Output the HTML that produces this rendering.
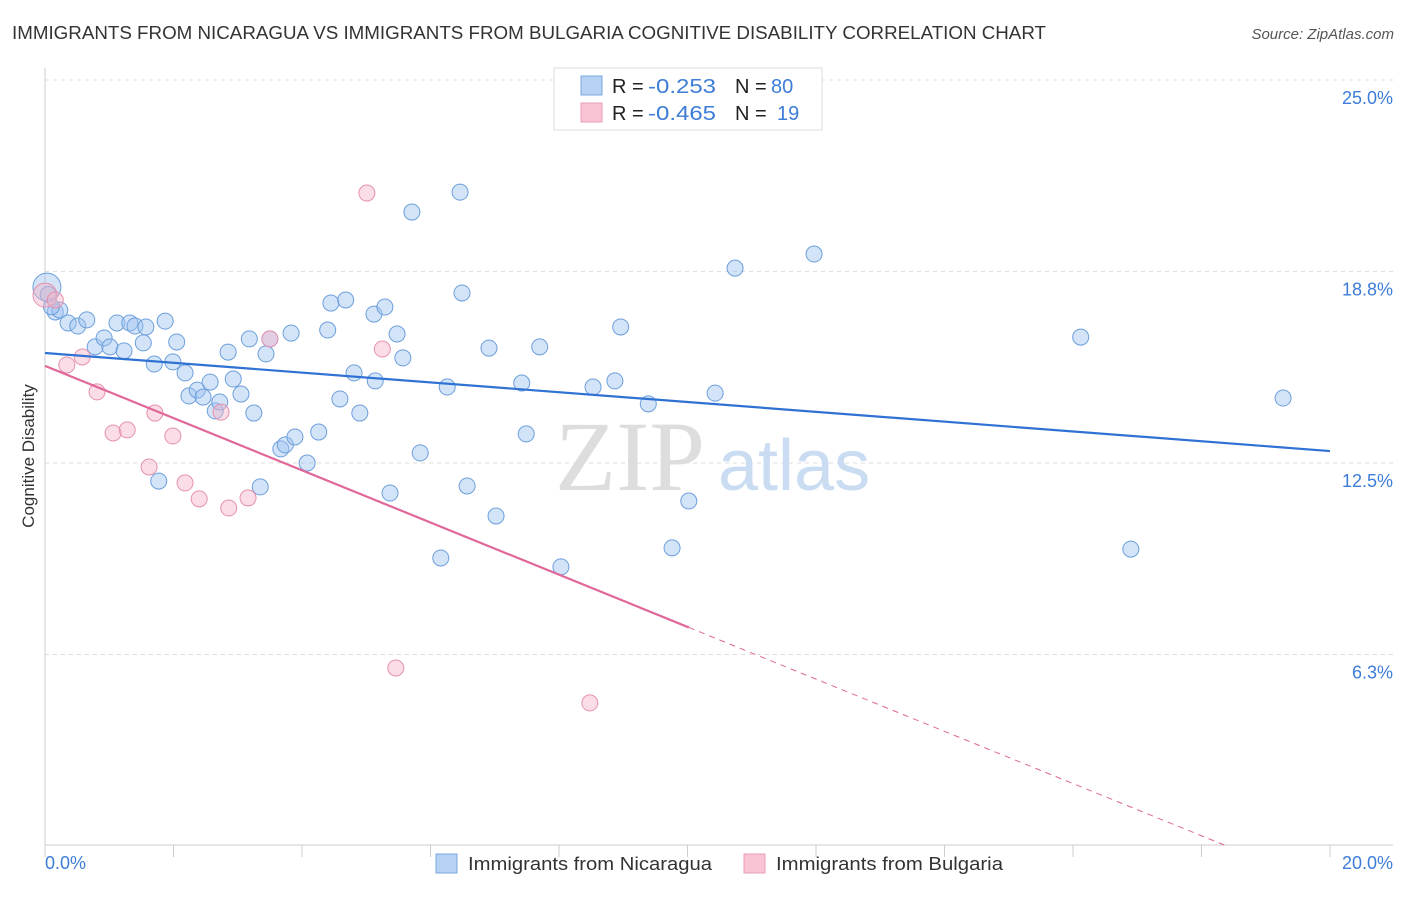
<!DOCTYPE html>
<html><head><meta charset="utf-8"><style>
body{margin:0;background:#fff;font-family:"Liberation Sans",sans-serif;}
svg text{font-family:"Liberation Sans",sans-serif;}
</style></head><body>
<svg id="chart" width="1406" height="892">
<text x="12" y="39" font-size="18" fill="#333" textLength="1034" lengthAdjust="spacingAndGlyphs">IMMIGRANTS FROM NICARAGUA VS IMMIGRANTS FROM BULGARIA COGNITIVE DISABILITY CORRELATION CHART</text>
<text x="1394" y="39" font-size="15" fill="#555" font-style="italic" text-anchor="end">Source: ZipAtlas.com</text>
<g id="grid"></g>
<text x="555" y="490" font-size="100" fill="#ddd" style="font-family:'Liberation Serif',serif">ZIP</text>
<text x="718" y="490" font-size="72" fill="#c9dcf2">atlas</text>
<g id="axes"></g>
<g id="pts"></g>
<g id="lines"></g>
<text transform="translate(34,456) rotate(-90)" font-size="17" fill="#333" text-anchor="middle">Cognitive Disability</text>
<text x="45" y="869" font-size="18" fill="#3d7dd8">0.0%</text>
<text x="1393" y="869" font-size="18" fill="#3d7dd8" text-anchor="end">20.0%</text>
<g>
<rect x="554" y="68" width="268" height="62" fill="#fff" stroke="#ddd"/>
<rect x="581" y="76" width="21" height="19" fill="#b6d1f3" stroke="#7aa7e0"/>
<rect x="581" y="103" width="21" height="19" fill="#f9c4d4" stroke="#ea9db5"/>
<text x="612" y="93" font-size="20" fill="#222">R = <tspan fill="#3d7dd8" x="648" textLength="68" lengthAdjust="spacingAndGlyphs">-0.253</tspan><tspan x="735">N = </tspan><tspan fill="#3d7dd8" x="771">80</tspan></text>
<text x="612" y="120" font-size="20" fill="#222">R = <tspan fill="#3d7dd8" x="648" textLength="68" lengthAdjust="spacingAndGlyphs">-0.465</tspan><tspan x="735">N = </tspan><tspan fill="#3d7dd8" x="777">19</tspan></text>
</g>
<g>
<rect x="436" y="854" width="21" height="19" fill="#b6d1f3" stroke="#7aa7e0"/>
<text x="468" y="870" font-size="18" fill="#333" textLength="244" lengthAdjust="spacingAndGlyphs">Immigrants from Nicaragua</text>
<rect x="744" y="854" width="21" height="19" fill="#f9c4d4" stroke="#ea9db5"/>
<text x="776" y="870" font-size="18" fill="#333" textLength="227" lengthAdjust="spacingAndGlyphs">Immigrants from Bulgaria</text>
</g>
</svg>
<script>
const yTicks=[25,18.75,12.5,6.25];
const yTickLabels=["25.0%","18.8%","12.5%","6.3%"];
const xTicks=[0,2,4,6,8,10,12,14,16,18,20];
const blueX=[0.03,0.16,0.23,0.36,0.51,0.65,0.78,0.92,1.01,1.12,1.23,1.32,1.40,1.53,1.57,1.70,1.77,1.87,1.99,2.05,2.18,2.24,2.37,2.46,2.57,2.65,2.72,2.85,2.93,3.05,3.18,3.25,3.35,3.44,3.50,3.67,3.74,3.83,3.89,4.08,4.26,4.40,4.45,4.59,4.68,4.81,4.90,5.12,5.14,5.29,5.37,5.48,5.57,5.71,5.84,6.16,6.26,6.46,6.49,6.57,6.91,7.02,7.42,7.49,7.70,8.03,8.53,8.87,8.96,9.39,9.76,10.02,10.43,10.74,11.97,16.12,16.90,19.27,0.05,0.10];
const blueY=[18.24,17.43,17.49,17.07,16.97,17.17,16.29,16.58,16.29,17.07,16.16,17.07,16.97,16.42,16.94,15.73,11.91,17.13,15.80,16.45,15.44,14.69,14.88,14.65,15.14,14.20,14.49,16.12,15.24,14.75,16.55,14.13,11.72,16.06,16.55,12.96,13.09,16.74,13.35,12.50,13.51,16.84,17.72,14.59,17.82,15.44,14.13,17.36,15.18,17.59,11.52,16.71,15.93,20.69,12.83,9.40,14.98,21.34,18.05,11.75,16.25,10.77,15.11,13.45,16.29,9.11,14.98,15.18,16.94,14.43,9.73,11.26,14.78,18.86,19.32,16.61,9.69,14.62,18.0,17.6];
const pinkX=[0,0.16,0.34,0.58,0.81,1.06,1.28,1.62,1.71,1.99,2.18,2.40,2.74,2.86,3.16,3.50,5.01,5.25,5.46,8.48];
const pinkY=[17.98,17.82,15.70,15.96,14.82,13.48,13.58,12.37,14.13,13.38,11.85,11.33,14.16,11.03,11.36,16.55,21.31,16.22,5.81,4.67];
const blueTrend=[16.09,12.89];
const pinkTrend=[15.67,-0.852];
const X=v=>45+v*64.25, Y=v=>846-v*30.64;
const NS="http://www.w3.org/2000/svg";
function mk(tag,attrs,parent){const e=document.createElementNS(NS,tag);for(const k in attrs)e.setAttribute(k,attrs[k]);document.getElementById(parent).appendChild(e);return e;}
yTicks.forEach((t,i)=>{
 const l=mk('line',{x1:45,x2:1393,y1:Y(t),y2:Y(t),stroke:'#ddd','stroke-dasharray':'4,4'},'grid');
 
 
 const tx=mk('text',{x:1393,y:Y(t)+24,'font-size':18,fill:'#3d7dd8','text-anchor':'end'},'grid');
 tx.textContent=yTickLabels[i];
 
 
});
let a=mk('line',{x1:45,x2:45,y1:68,y2:845,stroke:'#ccc'},'axes');


a=mk('line',{x1:45,x2:1393,y1:845,y2:845,stroke:'#ccc'},'axes');


xTicks.forEach(t=>{const l=mk('line',{x1:X(t),x2:X(t),y1:845,y2:857,stroke:'#ccc'},'axes');
 
 });
blueX.forEach((x,i)=>{const c=mk('circle',{cx:X(x),cy:Y(blueY[i]),r:i==0?14:8,fill:'rgba(160,196,240,0.45)',stroke:'#6c9fdc','stroke-width':1},'pts');
 
 });
pinkX.forEach((x,i)=>{const c=mk('circle',{cx:X(x),cy:Y(pinkY[i]),r:i==0?12:8,fill:'rgba(245,180,200,0.45)',stroke:'#e592ad','stroke-width':1},'pts');
 
 });
let t=mk('line',{x1:X(0),y1:Y(blueTrend[0]),x2:X(20),y2:Y(blueTrend[1]),stroke:'#2f72d4','stroke-width':2.2},'lines');


const pAt=x=>pinkTrend[0]+pinkTrend[1]*x;
const xEnd=-pinkTrend[0]/pinkTrend[1];
t=mk('line',{x1:X(0),y1:Y(pAt(0)),x2:X(10.02),y2:Y(pAt(10.02)),stroke:'#e0679a','stroke-width':2.2},'lines');


t=mk('line',{x1:X(10.02),y1:Y(pAt(10.02)),x2:X(xEnd),y2:Y(0),stroke:'#e0679a','stroke-width':1,'stroke-dasharray':'6,5'},'lines');


</script>
</body></html>
